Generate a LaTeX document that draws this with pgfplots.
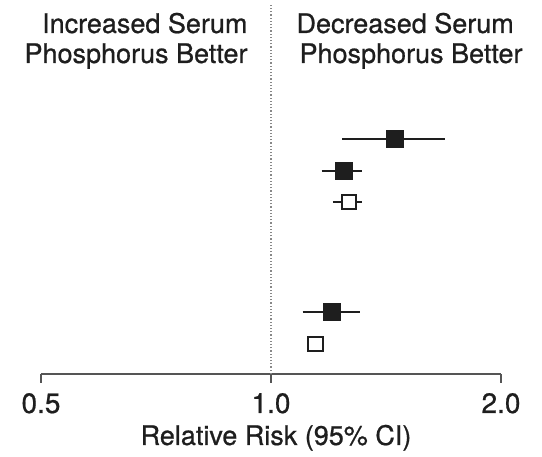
\documentclass[border=0pt]{standalone}
\usepackage{fontspec}
\setmainfont[FakeBold=0.7]{TeX Gyre Heros}
\usepackage{pgfplots}
\pgfplotsset{compat=1.18}
\definecolor{ink}{HTML}{1E1E1E}
\definecolor{axgray}{HTML}{555555}
\begin{document}
\begin{tikzpicture}
\useasboundingbox (0,0) rectangle (542pt,457pt);
\begin{axis}[
  at={(41pt,83pt)}, anchor=south west,
  scale only axis, width=460pt, height=371pt,
  xmode=log, log basis x=2,
  xmin=0.5, xmax=2, ymin=0, ymax=371,
  axis x line=bottom, axis y line=none,
  x axis line style={-, line width=2.5pt, color=axgray},
  xtick={0.5,1,2}, xticklabels={0.5,1.0,2.0},
  minor xtick={},
  tick align=outside, major tick length=9pt,
  every tick/.style={line width=2.5pt, color=axgray},
  xticklabel style={font=\fontsize{28}{30}\selectfont, text=ink, anchor=base, yshift=-30pt},
  /pgf/number format/assume math mode=true,
  clip=false,
]
% reference line at 1.0
\addplot[axgray!70, line width=1.2pt, dotted] coordinates {(1,0) (1,371)};
% confidence intervals
\addplot[ink, line width=2.6pt] coordinates {(1.239,235) (1.688,235)};
\addplot[ink, line width=2.6pt] coordinates {(1.165,203) (1.317,203)};
\addplot[ink, line width=2.6pt] coordinates {(1.205,172) (1.317,172)};
\addplot[ink, line width=2.6pt] coordinates {(1.100,62) (1.308,62)};
% filled squares
\addplot[only marks, mark=square*, mark size=8.5pt, color=ink] coordinates {(1.452,235) (1.245,203) (1.200,62)};
% open squares
\addplot[only marks, mark=square*, mark size=7.3pt, draw=ink, fill=white, line width=2.2pt] coordinates {(1.265,172) (1.144,30)};
% headers
\node[anchor=base east, text=ink, font=\fontsize{27}{30}\selectfont] at (axis cs:1,341) [xshift=-20pt] {Increased Serum};
\node[anchor=base east, text=ink, font=\fontsize{27}{30}\selectfont] at (axis cs:1,311) [xshift=-20pt] {Phosphorus Better};
\node[anchor=base west, text=ink, font=\fontsize{27}{30}\selectfont] at (axis cs:1,341) [xshift=22pt] {Decreased Serum};
\node[anchor=base west, text=ink, font=\fontsize{27}{30}\selectfont] at (axis cs:1,311) [xshift=25pt] {Phosphorus Better};
% axis label
\node[anchor=base, text=ink, font=\fontsize{27}{30}\selectfont] at (axis cs:1,0) [xshift=5pt, yshift=-71pt] {Relative Risk (95\% CI)};
\end{axis}
\end{tikzpicture}
\end{document}
